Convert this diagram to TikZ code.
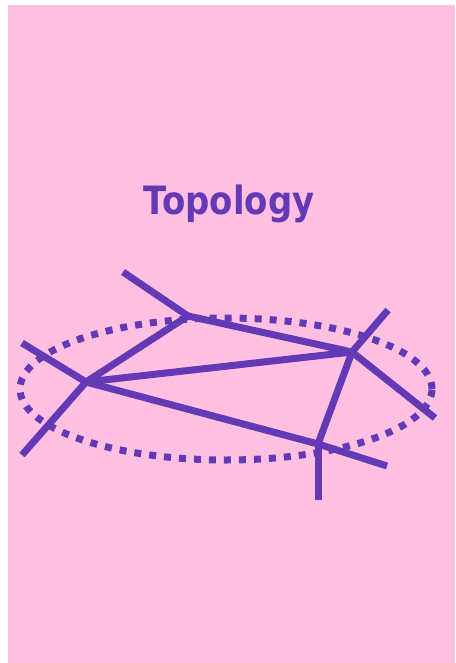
\documentclass[tikz,border=0pt]{standalone}
\usepackage{fontspec}
\newfontfamily\titlefont[FakeStretch=0.87]{DejaVu Sans}
\definecolor{bgpink}{RGB}{255,192,226}
\definecolor{netpurple}{RGB}{99,57,181}
\begin{document}
\begin{tikzpicture}
[
    x=1pt, y=-1pt,
    link/.style={draw=netpurple, line width=7pt},
    ring/.style={draw=netpurple, line width=7pt, dash pattern=on 7pt off 8pt}
]
    \useasboundingbox (0,0) rectangle (455,663);
    \fill [bgpink] (8,5) rectangle (455,663);

    \node [text=netpurple, font=\titlefont\bfseries\fontsize{39}{41}\selectfont, anchor=base] (title) at (229,214) {Topology};

    % dotted ring
    \draw [ring] (226,389) ellipse [x radius=206pt, y radius=71pt];

    \begin{scope}
        % hubs
        \coordinate (top) at (188,316);
        \coordinate (right) at (352,352);
        \coordinate (left) at (86,382);
        \coordinate (bottom) at (318,444);
        % loose ends
        \coordinate (top out) at (123,272);
        \coordinate (left up) at (22,343);
        \coordinate (left down) at (22,455);
        \coordinate (right up) at (388,310);
        \coordinate (right down) at (435,418);
        \coordinate (bottom right) at (387,466);
        \coordinate (bottom down) at (318,500);

        \draw [link] (top) -- (right);
        \draw [link] (top) -- (left);
        \draw [link] (left) -- (right);
        \draw [link] (left) -- (bottom);
        \draw [link] (right) -- (bottom);

        \draw [link] (top) -- (top out);
        \draw [link] (left) -- (left up);
        \draw [link] (left) -- (left down);
        \draw [link] (right) -- (right up);
        \draw [link] (right) -- (right down);
        \draw [link] (bottom) -- (bottom right);
        \draw [link] (bottom) -- (bottom down);
    \end{scope}
\end{tikzpicture}
\end{document}
